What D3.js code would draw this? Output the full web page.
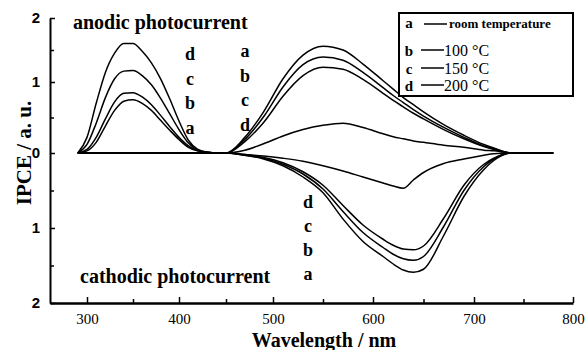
<!DOCTYPE html>
<html>
<head>
<meta charset="utf-8">
<script src="https://cdn.jsdelivr.net/npm/d3@7"></script>
<style>
  html, body { margin: 0; padding: 0; background: #fff; }
  svg { display: block; }
</style>
</head>
<body>
<div id="chart"></div>
<script>
// wavelength grid (nm) shared by every curve
const wavelengths = [290, 300, 310, 320, 330, 340, 350, 360, 370, 380, 390, 400, 410, 420, 430, 440, 450,
  470, 490, 510, 530, 550, 570, 590, 610, 620, 630, 640, 650, 670, 690, 710, 720, 738, 780];

// anodic IPCE (positive)
const anodicA = [0, 0.03, 0.15, 0.38, 0.6, 0.73, 0.75, 0.7, 0.6, 0.46, 0.32, 0.19, 0.08, 0.03, 0.01, 0, 0,
  0.22, 0.58, 1.05, 1.42, 1.56, 1.5, 1.28, 1.02, 0.9, 0.78, 0.68, 0.58, 0.4, 0.25, 0.12, 0.07, 0, 0];
const anodicB = [0, 0.05, 0.22, 0.48, 0.72, 0.84, 0.85, 0.79, 0.68, 0.53, 0.37, 0.22, 0.1, 0.03, 0.01, 0, 0,
  0.19, 0.51, 0.93, 1.27, 1.39, 1.34, 1.15, 0.92, 0.81, 0.71, 0.61, 0.52, 0.36, 0.22, 0.1, 0.06, 0, 0];
const anodicC = [0, 0.12, 0.42, 0.78, 1.05, 1.17, 1.18, 1.1, 0.96, 0.77, 0.55, 0.33, 0.14, 0.04, 0.01, 0, 0,
  0.16, 0.43, 0.8, 1.1, 1.23, 1.2, 1.04, 0.84, 0.74, 0.65, 0.56, 0.48, 0.33, 0.2, 0.09, 0.05, 0, 0];
const anodicD = [0, 0.22, 0.7, 1.15, 1.45, 1.6, 1.6, 1.48, 1.3, 1.05, 0.76, 0.45, 0.18, 0.05, 0.01, 0, 0,
  0.04, 0.13, 0.24, 0.33, 0.39, 0.42, 0.36, 0.27, 0.23, 0.2, 0.17, 0.15, 0.11, 0.08, 0.04, 0.03, 0, 0];

// cathodic IPCE (plotted below zero)
const cathodicA = [0, 0, 0, 0, 0, 0, 0, 0, 0, 0, 0, 0, 0, 0, 0, 0, 0,
  -0.03, -0.08, -0.17, -0.32, -0.53, -0.88, -1.18, -1.38, -1.48, -1.56, -1.59, -1.55, -1.1, -0.58, -0.22, -0.1, 0, 0];
const cathodicB = [0, 0, 0, 0, 0, 0, 0, 0, 0, 0, 0, 0, 0, 0, 0, 0, 0,
  -0.03, -0.07, -0.15, -0.28, -0.48, -0.78, -1.06, -1.26, -1.35, -1.41, -1.43, -1.38, -0.98, -0.5, -0.18, -0.08, 0, 0];
const cathodicC = [0, 0, 0, 0, 0, 0, 0, 0, 0, 0, 0, 0, 0, 0, 0, 0, 0,
  -0.02, -0.06, -0.13, -0.25, -0.43, -0.7, -0.96, -1.15, -1.23, -1.28, -1.29, -1.24, -0.87, -0.43, -0.15, -0.07, 0, 0];
const cathodicD = [0, 0, 0, 0, 0, 0, 0, 0, 0, 0, 0, 0, 0, 0, 0, 0, 0,
  -0.02, -0.04, -0.07, -0.11, -0.17, -0.24, -0.32, -0.4, -0.44, -0.47, -0.36, -0.26, -0.14, -0.08, -0.03, -0.01, 0, 0];

const series = [anodicA, anodicB, anodicC, anodicD, cathodicA, cathodicB, cathodicC, cathodicD];

// axis ticks
const xTicks = [300, 400, 500, 600, 700, 800];
const xMinor = [350, 450, 550, 650, 750];
const yTicks = [-2, -1, 0, 1, 2];
const yMinor = [-1.5, -0.5, 0.5, 1.5];

// legend
const legendKeys = ['a', 'b', 'c', 'd'];
const legendLabels = ['room temperature', '100 °C', '150 °C', '200 °C'];

// curve letters next to the bands
const uvKeys = ['d', 'c', 'b', 'a'];
const visAnodicKeys = ['a', 'b', 'c', 'd'];
const visCathodicKeys = ['d', 'c', 'b', 'a'];

const W = 586, H = 350;
const serif = "'Liberation Serif', 'Times New Roman', serif";

const svg = d3.select('#chart').append('svg')
  .attr('width', W).attr('height', H)
  .style('background', '#fff');

// the scanned axes are slightly uneven, so scales are piecewise
const x = d3.scaleLinear()
  .domain([260, 300, 400, 500, 600, 700, 800])
  .range([50, 87, 179, 273, 373, 474, 573]);
const y = d3.scaleLinear()
  .domain([-2, -1, 0, 1, 2])
  .range([303, 228, 153, 82, 18]);

// curves
const line = d3.line()
  .x((d, i) => x(wavelengths[i]))
  .y(d => y(d))
  .curve(d3.curveMonotoneX);

svg.append('g')
  .selectAll('path')
  .data(series)
  .join('path')
    .attr('d', line)
    .attr('fill', 'none')
    .attr('stroke', '#000')
    .attr('stroke-width', 1.5)
    .attr('stroke-linejoin', 'round');

// x axis (ticks point inward)
const xAxis = svg.append('g')
  .attr('transform', `translate(0,${y(-2)})`)
  .call(d3.axisBottom(x).tickValues(xTicks).tickSizeInner(-6).tickSizeOuter(0).tickPadding(10));
xAxis.select('.domain').attr('stroke-width', 2.5);
xAxis.selectAll('.tick line').attr('stroke-width', 1.5);
xAxis.selectAll('text')
  .attr('font-family', serif)
  .attr('font-size', 15)
  .attr('fill', '#000');

svg.append('g')
  .attr('transform', `translate(0,${y(-2)})`)
  .call(d3.axisBottom(x).tickValues(xMinor).tickSize(-4).tickFormat(''))
  .call(g => g.select('.domain').remove())
  .selectAll('line').attr('stroke-width', 1.5);

// y axis (labels are magnitudes)
const yAxis = svg.append('g')
  .attr('transform', `translate(${x(260)},0)`)
  .call(d3.axisLeft(y).tickValues(yTicks).tickSizeInner(-5).tickSizeOuter(0).tickPadding(10)
    .tickFormat(d => Math.abs(d)));
yAxis.select('.domain').attr('stroke-width', 2);
yAxis.selectAll('.tick line').attr('stroke-width', 1.5);
yAxis.selectAll('text')
  .attr('font-family', "'Liberation Sans', Arial, sans-serif")
  .attr('font-weight', 'bold')
  .attr('font-size', 15)
  .attr('fill', '#000');

svg.append('g')
  .attr('transform', `translate(${x(260)},0)`)
  .call(d3.axisLeft(y).tickValues(yMinor).tickSize(-4).tickFormat(''))
  .call(g => g.select('.domain').remove())
  .selectAll('line').attr('stroke-width', 1.5);

// axis titles
svg.append('text')
  .attr('x', 324).attr('y', 347)
  .attr('text-anchor', 'middle')
  .attr('font-family', serif).attr('font-weight', 'bold').attr('font-size', 20)
  .text('Wavelength / nm');

svg.append('text')
  .attr('transform', 'translate(31,153) rotate(-90)')
  .attr('text-anchor', 'middle')
  .attr('font-family', serif).attr('font-weight', 'bold').attr('font-size', 21)
  .text('IPCE / a. u.');

// region notes
svg.append('text')
  .attr('x', 73).attr('y', 29)
  .attr('font-family', serif).attr('font-weight', 'bold').attr('font-size', 20)
  .text('anodic photocurrent');

svg.append('text')
  .attr('x', 80).attr('y', 283)
  .attr('font-family', serif).attr('font-weight', 'bold').attr('font-size', 20)
  .text('cathodic photocurrent');

// curve letters
function letterColumn(keys, cx, firstBaseline, step) {
  svg.append('g')
    .selectAll('text')
    .data(keys)
    .join('text')
      .attr('x', cx)
      .attr('y', (d, i) => firstBaseline + i * step)
      .attr('text-anchor', 'middle')
      .attr('font-family', serif).attr('font-weight', 'bold').attr('font-size', 18)
      .text(d => d);
}
letterColumn(uvKeys, 190, 60, 24.5);
letterColumn(visAnodicKeys, 245, 57, 24.5);
letterColumn(visCathodicKeys, 308, 208, 24);

// legend
const legend = svg.append('g');
legend.append('rect')
  .attr('x', 399).attr('y', 13).attr('width', 174).attr('height', 83)
  .attr('fill', '#fff').attr('stroke', '#000').attr('stroke-width', 2);

const rowBaselines = [28, 56, 74, 91];
const rows = legend.selectAll('g.row')
  .data(legendKeys)
  .join('g')
    .attr('class', 'row')
    .attr('transform', (d, i) => `translate(0,${rowBaselines[i]})`);

rows.append('text')
  .attr('x', 409)
  .attr('text-anchor', 'middle')
  .attr('font-family', serif).attr('font-weight', 'bold').attr('font-size', 15)
  .text(d => d);

rows.append('line')
  .attr('x1', (d, i) => i === 0 ? 424 : 421)
  .attr('x2', (d, i) => i === 0 ? 447 : 444)
  .attr('y1', (d, i) => i === 0 ? -4 : -6)
  .attr('y2', (d, i) => i === 0 ? -4 : -6)
  .attr('stroke', '#000').attr('stroke-width', 1.5);

rows.append('text')
  .attr('x', (d, i) => i === 0 ? 449 : 444)
  .attr('font-family', serif)
  .attr('font-weight', (d, i) => i === 0 ? 'bold' : 'normal')
  .attr('font-size', (d, i) => i === 0 ? 13 : 16)
  .text((d, i) => legendLabels[i]);
</script>
</body>
</html>
